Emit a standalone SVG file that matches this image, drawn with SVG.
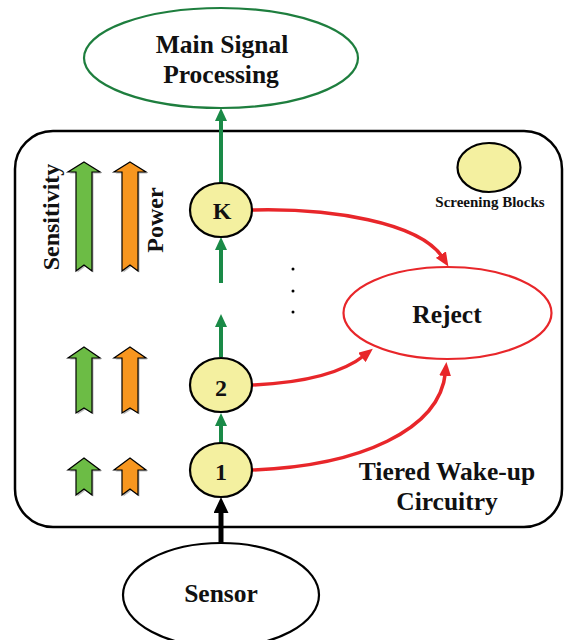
<svg xmlns="http://www.w3.org/2000/svg" width="564" height="640" viewBox="0 0 564 640">
  <style>
    text { font-family: "Liberation Serif", "Times New Roman", serif; font-weight: bold; fill: #111; }
    .lbl { font-size: 25.5px; text-anchor: middle; }
    .num { font-size: 24px; text-anchor: middle; }
    .axis { font-size: 24px; text-anchor: middle; }
    .small { font-size: 15px; text-anchor: middle; }
    .block { fill: #f4f0a0; stroke: #000; stroke-width: 2.2; }
    .green { stroke: #1a8a47; stroke-width: 4; fill: none; }
    .red { stroke: #e8262a; stroke-width: 3.5; fill: none; }
    .black { stroke: #000; stroke-width: 5; fill: none; }
    .shadow { fill: #9a9a9a; opacity: 0.7; }
    .up-g { fill: #6cbc45; stroke: #000; stroke-width: 1.2; stroke-linejoin: miter; }
    .up-o { fill: #f7961f; stroke: #000; stroke-width: 1.2; stroke-linejoin: miter; }
  </style>
  <defs>
    <marker id="ah-green" markerUnits="userSpaceOnUse" markerWidth="13" markerHeight="12" refX="4" refY="6" orient="auto">
      <path d="M0,0 L13,6 L0,12 z" fill="#1a8a47"/>
    </marker>
    <marker id="ah-red" markerUnits="userSpaceOnUse" markerWidth="14" markerHeight="12" refX="4" refY="6" orient="auto">
      <path d="M0,0 L14,6 L0,12 z" fill="#e8262a"/>
    </marker>
    <marker id="ah-black" markerUnits="userSpaceOnUse" markerWidth="16" markerHeight="15" refX="5" refY="7.5" orient="auto">
      <path d="M0,0 L16,7.5 L0,15 z" fill="#000"/>
    </marker>
    <!-- level arrows: tall, medium, short -->
    <polygon id="up-tall" points="0,162 16,172 8,172 8,271 0,265 -8,271 -8,172 -16,172"/>
    <polygon id="up-mid" points="0,347 16,358 8,358 8,413 0,408 -8,413 -8,358 -16,358"/>
    <polygon id="up-short" points="0,458 16,470 8,470 8,495 0,489 -8,495 -8,470 -16,470"/>
  </defs>

  <!-- wake-up circuitry enclosure -->
  <g id="enclosure">
    <rect x="15" y="131" width="547" height="396" rx="38" ry="38" fill="#fff" stroke="#000" stroke-width="2.5"/>
    <text class="lbl" x="447" y="480">Tiered Wake-up</text>
    <text class="lbl" x="447" y="510">Circuitry</text>
  </g>

  <!-- sensitivity / power scale -->
  <g id="scale">
    <use href="#up-tall" class="shadow" x="85.5" y="1.5"/>
    <use href="#up-tall" class="up-g" x="84"/>
    <use href="#up-tall" class="shadow" x="131.5" y="1.5"/>
    <use href="#up-tall" class="up-o" x="130"/>
    <use href="#up-mid" class="shadow" x="85.5" y="1.5"/>
    <use href="#up-mid" class="up-g" x="84"/>
    <use href="#up-mid" class="shadow" x="131.5" y="1.5"/>
    <use href="#up-mid" class="up-o" x="130"/>
    <use href="#up-short" class="shadow" x="85.5" y="1.5"/>
    <use href="#up-short" class="up-g" x="84"/>
    <use href="#up-short" class="shadow" x="131.5" y="1.5"/>
    <use href="#up-short" class="up-o" x="130"/>
    <text class="axis" transform="translate(58.5,217) rotate(-90)">Sensitivity</text>
    <text class="axis" transform="translate(163,220) rotate(-90)">Power</text>
  </g>

  <!-- connectors -->
  <g id="connectors">
    <path class="green" d="M221,183 L221,117" marker-end="url(#ah-green)"/>
    <path class="green" d="M221,283 L221,246" marker-end="url(#ah-green)"/>
    <path class="green" d="M221,357 L221,323" marker-end="url(#ah-green)"/>
    <path class="green" d="M221,443 L221,422" marker-end="url(#ah-green)"/>
    <path class="black" d="M221,543 L221,508" marker-end="url(#ah-black)"/>
    <path class="red" d="M252,210 C330,208 420,222 443,258" marker-end="url(#ah-red)"/>
    <path class="red" d="M252,385 C300,383 340,375 365,355" marker-end="url(#ah-red)"/>
    <path class="red" d="M252,470 C360,466 440,430 445.5,372" marker-end="url(#ah-red)"/>
  </g>

  <!-- continuation dots -->
  <g id="ellipsis" fill="#000">
    <circle cx="293" cy="269" r="1.5"/>
    <circle cx="293" cy="291" r="1.5"/>
    <circle cx="293" cy="312" r="1.5"/>
  </g>

  <g id="main-processing">
    <ellipse cx="221" cy="58" rx="137" ry="50" fill="#fff" stroke="#1e7e3e" stroke-width="2.2"/>
    <text class="lbl" x="222" y="53">Main Signal</text>
    <text class="lbl" x="221" y="83">Processing</text>
  </g>

  <g id="block-k">
    <ellipse class="block" cx="221" cy="210" rx="31" ry="27"/>
    <text class="num" x="222" y="219">K</text>
  </g>

  <g id="block-2">
    <ellipse class="block" cx="221" cy="385" rx="31" ry="27"/>
    <text class="num" x="221" y="396">2</text>
  </g>

  <g id="block-1">
    <ellipse class="block" cx="221" cy="470" rx="31" ry="27"/>
    <text class="num" x="221" y="480">1</text>
  </g>

  <g id="reject">
    <ellipse cx="447.5" cy="313" rx="104" ry="46" fill="#fff" stroke="#e8262a" stroke-width="2.2"/>
    <text class="lbl" x="447" y="323">Reject</text>
  </g>

  <g id="legend">
    <ellipse class="block" cx="489" cy="167.5" rx="31.5" ry="24.5"/>
    <text class="small" x="490" y="207">Screening Blocks</text>
  </g>

  <g id="sensor">
    <ellipse cx="221" cy="595" rx="98" ry="52" fill="#fff" stroke="#000" stroke-width="2.2"/>
    <text class="lbl" x="221" y="602">Sensor</text>
  </g>
</svg>
